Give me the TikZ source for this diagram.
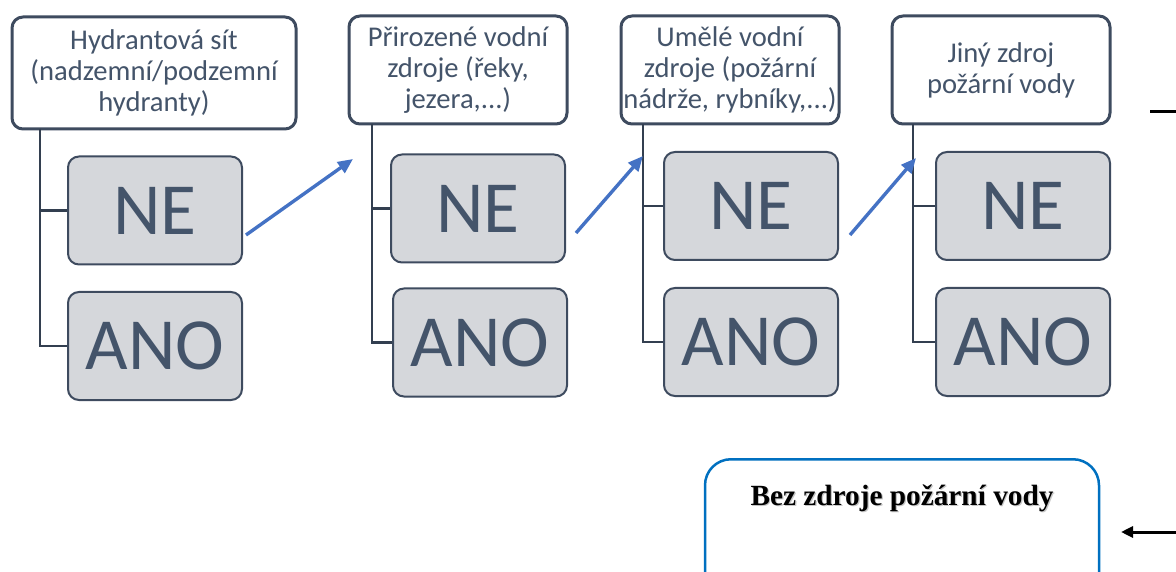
\documentclass[tikz,border=0pt]{standalone}
\usepackage{fontspec}
\setmainfont{Carlito}
\newfontfamily\serifbold{Liberation Serif}
\usetikzlibrary{arrows.meta,calc}

\definecolor{slate}{HTML}{44546A}
\definecolor{edgeslate}{HTML}{3E4B5F}
\definecolor{treeline}{HTML}{333F50}
\definecolor{boxfill}{HTML}{D5D7DB}
\definecolor{flowblue}{HTML}{4472C4}
\definecolor{framblue}{HTML}{0070C0}

\tikzset{
  header/.style={draw=edgeslate, line width=3pt, rounded corners=11pt, fill=white,
    inner sep=0pt, minimum height=108pt, text=slate, align=center,
    font=\fontsize{28.6}{31}\selectfont},
  answer/.style={draw=edgeslate, line width=2pt, rounded corners=11pt, fill=boxfill,
    inner sep=0pt, minimum width=174pt, minimum height=108pt, text=slate,
    font=\fontsize{73.5}{80}\selectfont},
  branch/.style={draw=treeline, line width=2.4pt},
  flow/.style={draw=flowblue, line width=3.4pt,
    -{Triangle[length=15pt,width=13pt]}},
  plain/.style={draw=black, line width=3pt},
  plainarrow/.style={draw=black, line width=3pt,
    -{Triangle[length=12pt,width=11pt]}},
  endbox/.style={draw=framblue, line width=2.5pt, rounded corners=26pt, fill=white,
    inner sep=0pt, minimum width=394pt, minimum height=150pt},
  endtext/.style={font=\serifbold\bfseries\fontsize{29.3}{32}\selectfont, text=black}
}

\begin{document}
\begin{tikzpicture}[x=1pt, y=-1pt]
\useasboundingbox (0,0) rectangle (1176,572);
\clip (0,0) rectangle (1176,572);

% source categories
\node[header, minimum width=284pt, minimum height=112pt] (h1) at (154,73)
  {Hydrantová sít\\(nadzemní/podzemní\\hydranty)};
\node[header, minimum width=218pt] (h2) at (458,70)
  {Přirozené vodní\\zdroje (řeky,\\jezera,...)};
\node[header, minimum width=218pt] (h3) at (730,70)
  {Umělé vodní\\zdroje (požární\\nádrže, rybníky,...)};
\node[header, minimum width=218pt] (h4) at (1001,70)
  {Jiný zdroj\\požární vody};

% answers
\node[answer] (ne1)  at (155,210.5) {NE};
\node[answer] (ano1) at (155,346)   {ANO};
\node[answer] (ne2)  at (478,208.5) {NE};
\node[answer] (ano2) at (480,342.5) {ANO};
\node[answer] (ne3)  at (751,206)   {NE};
\node[answer] (ano3) at (751,342)   {ANO};
\node[answer] (ne4)  at (1023,206)  {NE};
\node[answer] (ano4) at (1023,342)  {ANO};

% tree branches from each category
\coordinate (t1) at (40,129);
\coordinate (t2) at (372,124);
\coordinate (t3) at (643,124);
\coordinate (t4) at (913,124);
\foreach \i in {1,2,3,4}{
  \draw[branch] (t\i) |- (ne\i.west);
  \draw[branch] (t\i) |- (ano\i.west);
}

% "NE" leads on to the next category
\coordinate (e1) at (353,159);
\coordinate (e2) at (643,156);
\coordinate (e3) at (916,158);
\draw[flow] ($(ne1.east)+(3,24.5)$) -- (e1);
\draw[flow] ($(ne2.east)+(10,24.5)$) -- (e2);
\draw[flow] ($(ne3.east)+(11,29)$) -- (e3);

% right-hand leads
\coordinate (r1) at (1150,112);
\coordinate (r1out) at (1190,112);
\draw[plain] (r1) -- (r1out);

% no source available
\node[endbox, anchor=north] (bez) at (902,458) {};
\node[endtext, text=black!22] at (903.2,499.2) {Bez zdroje požární vody};
\node[endtext] (beztext) at (902,498) {Bez zdroje požární vody};
\coordinate (r2out) at (1190,532);
\coordinate (r2in) at (1121,532);
\draw[plainarrow] (r2out) -- (r2in);
\end{tikzpicture}
\end{document}
